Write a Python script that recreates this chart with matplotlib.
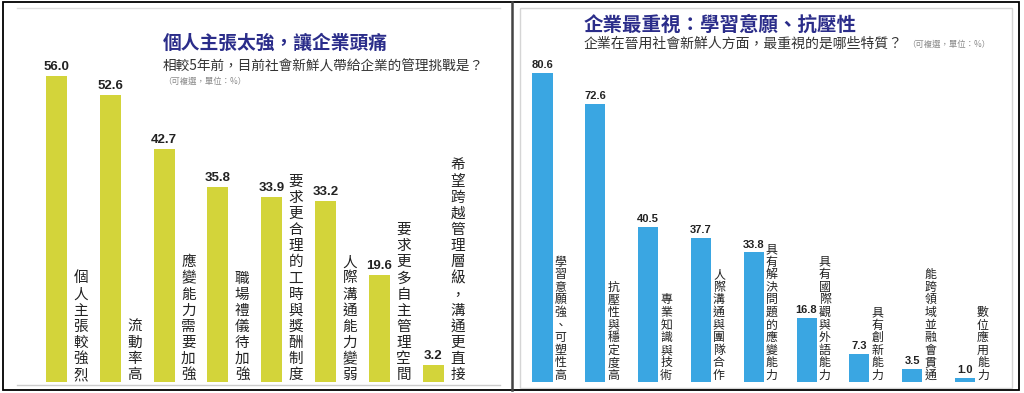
import matplotlib
matplotlib.use('Agg')
import matplotlib.pyplot as plt
from matplotlib.patches import Rectangle
from matplotlib.lines import Line2D

plt.rcParams['font.family'] = ['Noto Sans CJK TC', 'DejaVu Sans']

# 左圖資料
left_title = '個人主張太強，讓企業頭痛'
left_subtitle = '相較5年前，目前社會新鮮人帶給企業的管理挑戰是？'
left_cats = ['個人主張較強烈', '流動率高', '應變能力需要加強', '職場禮儀待加強',
             '要求更合理的工時與獎酬制度', '人際溝通能力變弱', '要求更多自主管理空間',
             '希望跨越管理層級，溝通更直接']
left_vals = [56.0, 52.6, 42.7, 35.8, 33.9, 33.2, 19.6, 3.2]

# 右圖資料
right_title = '企業最重視：學習意願、抗壓性'
right_subtitle = '企業在晉用社會新鮮人方面，最重視的是哪些特質？'
right_cats = ['學習意願強、可塑性高', '抗壓性與穩定度高', '專業知識與技術', '人際溝通與團隊合作',
              '具有解決問題的應變能力', '具有國際觀與外語能力', '具有創新能力',
              '能跨領域並融會貫通', '數位應用能力']
right_vals = [80.6, 72.6, 40.5, 37.7, 33.8, 16.8, 7.3, 3.5, 1.0]

note = '（可複選，單位：%）'

W, H = 1024, 393
fig = plt.figure(figsize=(W / 100, H / 100), dpi=100)


def px(x0, y0, x1, y1):
    # 像素座標（左上為原點）轉成 figure 比例
    return [x0 / W, 1 - y1 / H, (x1 - x0) / W, (y1 - y0) / H]


num_font = ['Liberation Sans', 'Noto Sans CJK TC']


def draw_panel(rect, cats, vals, color, xlim, ylim, width, off, fs, ls, vfs):
    ax = fig.add_axes(rect)
    x = list(range(len(vals)))
    bars = ax.bar(x, vals, width=width, color=color, zorder=2)
    ax.bar_label(bars, labels=[f'{v:.1f}' for v in vals], padding=2,
                 fontsize=vfs, fontweight='bold', family=num_font, color='#222222')
    for i, lab in enumerate(cats):
        ax.text(i + off, 0, '\n'.join(lab), ha='center', va='bottom',
                fontsize=fs, linespacing=ls, color='#222222')
    ax.set_xlim(*xlim)
    ax.set_ylim(*ylim)
    ax.axis('off')
    return ax


# 左圖
draw_panel(px(17, 8, 500, 382), left_cats, left_vals, '#d3d43a',
           (-0.734, 8.24), (0, 68.5), 0.39, 0.45, 10.5, 1.19, 9.5)
fig.text(163 / W, 1 - 43 / H, left_title, fontsize=13.5, fontweight='bold',
         color='#2b2d8a', va='center', ha='left')
fig.text(163 / W, 1 - 67 / H, left_subtitle, fontsize=9.8, color='#333333',
         va='center', ha='left')
fig.text(163 / W, 1 - 81 / H, note, fontsize=6, color='#888888', va='center', ha='left')

# 右圖
draw_panel(px(520, 8, 1012, 382), right_cats, right_vals, '#3aa6e2',
           (-0.426, 8.89), (0, 97.6), 0.38, 0.34, 8.6, 0.96, 8)
fig.text(584 / W, 1 - 25 / H, right_title, fontsize=14, fontweight='bold',
         color='#2b2d8a', va='center', ha='left')
fig.text(584 / W, 1 - 44 / H, right_subtitle, fontsize=10, color='#333333',
         va='center', ha='left')
fig.text(907 / W, 1 - 44 / H, note, fontsize=6, color='#888888', va='center', ha='left')

# 外框與分隔線
fig.add_artist(Line2D([17 / W, 500 / W], [1 - 8 / H, 1 - 8 / H], color='#dddddd', lw=1))
fig.add_artist(Line2D([17 / W, 500 / W], [1 - 385 / H, 1 - 385 / H], color='#cccccc', lw=1))
fig.add_artist(Rectangle((520 / W, 1 - 388 / H), 492 / W, 380 / H, fill=False,
                         ec='#d5d5d5', lw=1, transform=fig.transFigure))
fig.add_artist(Line2D([512 / W, 512 / W], [1 - 2 / H, 1 - 390 / H], color='#444444', lw=1.8))
fig.add_artist(Rectangle((3 / W, 1 - 390 / H), 1016 / W, 388 / H, fill=False,
                         ec='black', lw=1.3, transform=fig.transFigure))

fig.savefig('out.png', dpi=100)
